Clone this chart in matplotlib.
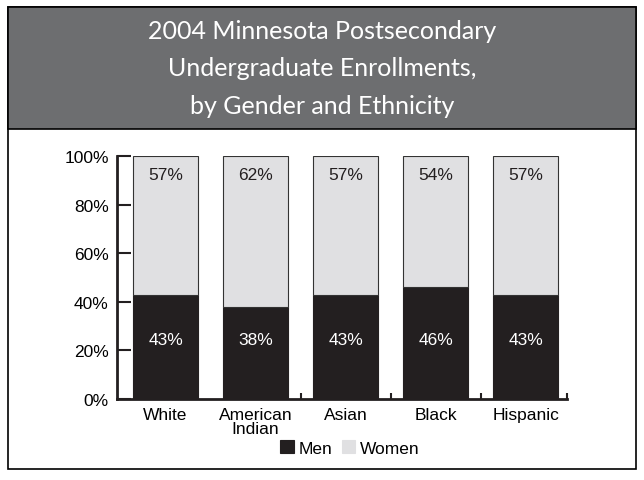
import matplotlib
matplotlib.use('Agg')
import matplotlib.pyplot as plt
import numpy as np
from matplotlib.patches import Rectangle
from matplotlib import font_manager

# data
groups = ['White', 'American\nIndian', 'Asian', 'Black', 'Hispanic']
men = [43, 38, 43, 46, 43]
women = [57, 62, 57, 54, 57]
yticks = [0, 20, 40, 60, 80, 100]

men_color = '#231f20'
women_color = '#e0e0e2'
band_color = '#6d6e70'

names = {f.name for f in font_manager.fontManager.ttflist}
narrow = 'Liberation Sans Narrow' if 'Liberation Sans Narrow' in names else 'Liberation Sans'

fig = plt.figure(figsize=(6.44, 4.81), dpi=100)

# outer frame and title band
fig.patches.append(Rectangle((8/644, 1-470/481), 628/644, 462/481, transform=fig.transFigure,
                             facecolor='white', edgecolor='black', linewidth=1.2, zorder=-3))
fig.patches.append(Rectangle((8/644, 1-130/481), 628/644, 122/481, transform=fig.transFigure,
                             facecolor=band_color, edgecolor='black', linewidth=1.2, zorder=-2))
fig.text(0.5, 1-69/481, '2004 Minnesota Postsecondary\nUndergraduate Enrollments,\nby Gender and Ethnicity',
         ha='center', va='center', color='white', fontsize=18, family='Lato',
         linespacing=1.78)

ax = fig.add_axes([117/644, 1-400/481, 450/644, 243/481])
ax.set_zorder(2)
ax.patch.set_alpha(0)
x = np.arange(len(groups))
w = 0.72
ax.bar(x, men, w, color=men_color, edgecolor=men_color, linewidth=0.8, label='Men')
ax.bar(x, women, w, bottom=men, color=women_color, edgecolor='#333333', linewidth=0.8, label='Women')

for i in range(len(groups)):
    ax.text(x[i], 24.5, f'{men[i]}%', ha='center', va='center', color='white',
            fontsize=12.5, family=narrow)
    ax.text(x[i], 92.5, f'{women[i]}%', ha='center', va='center', color='#231f20',
            fontsize=12.5, family=narrow)

ax.set_xlim(-0.54, 4.46)
ax.set_ylim(0, 100)
ax.set_yticks(yticks)
ax.set_yticklabels([f'{t}%' for t in yticks], family=narrow, fontsize=12.5)
ax.set_xticks(x)
ax.set_xticklabels(groups, family=narrow, fontsize=12.5, linespacing=0.85)
ax.set_xticks([1.5, 2.5, 3.5, 4.46], minor=True)
ax.tick_params(axis='x', which='major', length=0, pad=6)
ax.tick_params(axis='x', which='minor', direction='in', length=4, width=1.5, color='#231f20')
ax.tick_params(axis='y', direction='in', length=10, width=1.5, color='#231f20', pad=6)
for s in ['top', 'right']:
    ax.spines[s].set_visible(False)
for s in ['left', 'bottom']:
    ax.spines[s].set_linewidth(2)
    ax.spines[s].set_color('#231f20')

leg = fig.legend(loc='center', bbox_to_anchor=(0.543, 1-449/481), ncol=2, frameon=False,
                 prop={'family': narrow, 'size': 12.5}, handlelength=0.8, handleheight=0.8,
                 handletextpad=0.25, columnspacing=0.55)
for h in leg.legend_handles:
    h.set_edgecolor(h.get_facecolor())

fig.savefig('out.png', dpi=100)
